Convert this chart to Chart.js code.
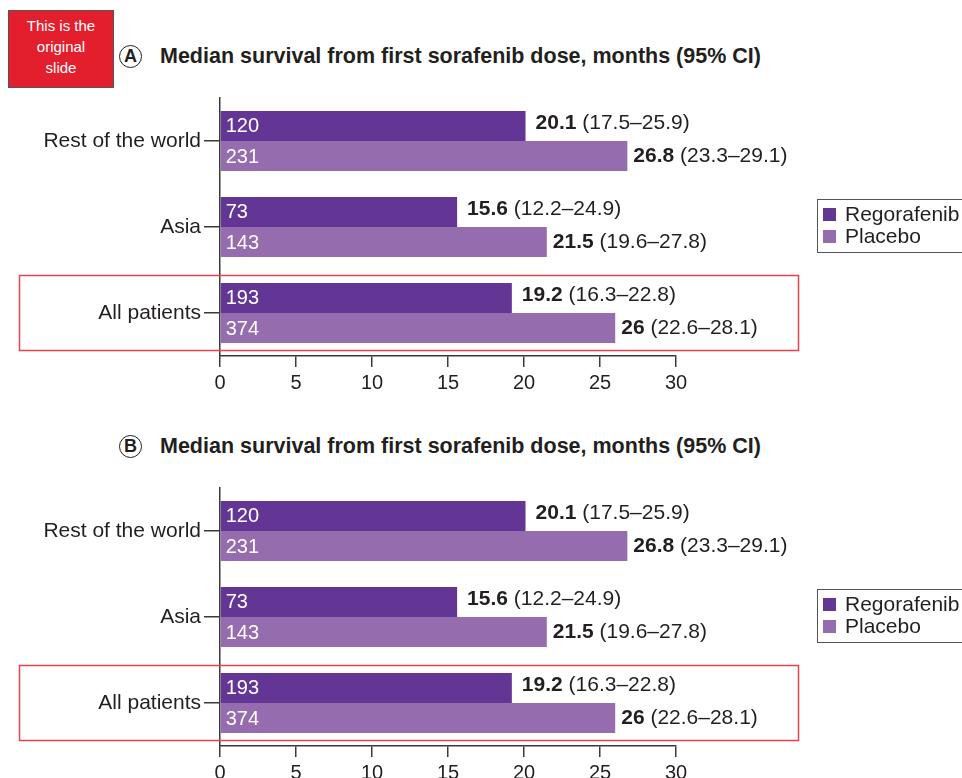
<!DOCTYPE html>
<html>
<head>
<meta charset="utf-8">
<script src="https://cdn.jsdelivr.net/npm/chart.js@4/dist/chart.umd.min.js"></script>
<style>
  html, body { margin: 0; padding: 0; background: #fff; }
  body { width: 962px; height: 778px; position: relative; overflow: hidden;
         font-family: "Liberation Sans", Arial, Helvetica, sans-serif; color: #231f20; }
  .note { position: absolute; left: 8px; top: 10px; width: 104px; height: 72px;
          background: #e31f2e; border: 1px solid #555; color: #fff; font-size: 15px;
          line-height: 21px; text-align: center; padding-top: 4px; }
  .title { position: absolute; left: 119px; height: 26px; font-weight: bold; font-size: 21.5px;
           line-height: 26px; white-space: nowrap; }
  .title .badge { display: inline-block; width: 21px; height: 21px; border: 1.5px solid #231f20;
                  border-radius: 50%; text-align: center; line-height: 21px; font-size: 18px;
                  margin-right: 18px; vertical-align: 1px; }
  .legend { position: absolute; left: 817px; width: 170px; height: 52px; border: 1px solid #555;
            font-size: 21px; }
  .legend div { position: absolute; left: 27px; line-height: 22px; white-space: nowrap; }
  .legend span { position: absolute; left: -22px; top: 5px; width: 13px; height: 13px; }
  canvas { position: absolute; left: 0; }
</style>
</head>
<body>
<div class="note">This is the<br>original<br>slide</div>

<div class="title" style="top:43px"><span class="badge">A</span>Median survival from first sorafenib dose, months (95% CI)</div>
<canvas id="panelA" width="962" height="310" style="top:90px"></canvas>
<div class="legend" id="legendA" style="top:199px"></div>

<div class="title" style="top:433px"><span class="badge">B</span>Median survival from first sorafenib dose, months (95% CI)</div>
<canvas id="panelB" width="962" height="310" style="top:480px"></canvas>
<div class="legend" id="legendB" style="top:589px"></div>

<script>
const categories = ['Rest of the world', 'Asia', 'All patients'];
const seriesNames = ['Regorafenib', 'Placebo'];
const regorafenibMedian = [20.1, 15.6, 19.2];
const placeboMedian = [26.8, 21.5, 26];
const regorafenibCI = ['17.5–25.9', '12.2–24.9', '16.3–22.8'];
const placeboCI = ['23.3–29.1', '19.6–27.8', '22.6–28.1'];
const regorafenibN = [120, 73, 193];
const placeboN = [231, 143, 374];
const xTicks = [0, 5, 10, 15, 20, 25, 30];

const colors = ['#633695', '#956cae'];
const ink = '#231f20';
const FONT = '"Liberation Sans", Arial, Helvetica, sans-serif';

// counts inside the bars, median + CI after them, red frame round "All patients"
const barLabels = {
  id: 'barLabels',
  afterDatasetsDraw(chart) {
    const ctx = chart.ctx;
    const counts = [regorafenibN, placeboN];
    const cis = [regorafenibCI, placeboCI];
    ctx.save();
    ctx.textBaseline = 'middle';
    chart.data.datasets.forEach((ds, i) => {
      chart.getDatasetMeta(i).data.forEach((bar, j) => {
        ctx.font = '20px ' + FONT;
        ctx.fillStyle = '#fff';
        ctx.fillText(String(counts[i][j]), bar.base + 5, bar.y + 1);

        const med = String(ds.data[j]);
        let x = bar.x + (i === 0 ? 10 : 6);
        const y = bar.y - (i === 0 ? 3 : 0);
        ctx.fillStyle = ink;
        ctx.font = 'bold 21px ' + FONT;
        ctx.fillText(med, x, y);
        x += ctx.measureText(med).width;
        ctx.font = '21px ' + FONT;
        ctx.fillText(' (' + cis[i][j] + ')', x, y);
      });
    });
    ctx.restore();
  },
  afterDraw(chart) {
    const ctx = chart.ctx;
    const yc = chart.scales.y.getPixelForValue(2);
    ctx.save();
    ctx.strokeStyle = '#e8414f';
    ctx.lineWidth = 1.5;
    ctx.strokeRect(19.5, yc - 37.5, 779, 75);
    ctx.restore();
  }
};

function buildPanel(canvasId, legendId) {
  const legend = document.getElementById(legendId);
  seriesNames.forEach((name, i) => {
    const row = document.createElement('div');
    row.style.top = (i === 0 ? 3 : 25) + 'px';
    row.innerHTML = '<span style="background:' + colors[i] + '"></span>' + name;
    legend.appendChild(row);
  });

  const ctx = document.getElementById(canvasId).getContext('2d');
  return new Chart(ctx, {
    type: 'bar',
    data: {
      labels: categories,
      datasets: [
        { label: seriesNames[0], data: regorafenibMedian, backgroundColor: colors[0] },
        { label: seriesNames[1], data: placeboMedian, backgroundColor: colors[1] }
      ]
    },
    options: {
      indexAxis: 'y',
      responsive: false,
      animation: false,
      devicePixelRatio: 1,
      categoryPercentage: 0.70,
      barPercentage: 1,
      layout: { padding: { top: 8, right: 286, left: 0, bottom: 0 } },
      plugins: { legend: { display: false }, tooltip: { enabled: false } },
      scales: {
        x: {
          min: 0, max: 30,
          afterBuildTicks: (scale) => { scale.ticks = xTicks.map(v => ({ value: v })); },
          afterFit: (scale) => { scale.height = 44; },
          border: { display: true, color: '#3a3a3a', width: 1.5 },
          grid: { drawOnChartArea: false, drawTicks: true, tickLength: 11, color: '#3a3a3a', lineWidth: 1.5 },
          ticks: { color: ink, font: { size: 20, family: FONT }, padding: 4, maxRotation: 0 }
        },
        y: {
          afterFit: (scale) => { scale.width = 220; scale.paddingTop = 0; scale.paddingBottom = 0; },
          border: { display: true, color: '#3a3a3a', width: 1.5 },
          grid: { offset: false, drawOnChartArea: false, drawTicks: true, tickLength: 16, color: '#3a3a3a', lineWidth: 1.5 },
          ticks: { color: ink, font: { size: 21, family: FONT }, padding: 3 }
        }
      }
    },
    plugins: [barLabels]
  });
}

buildPanel('panelA', 'legendA');
buildPanel('panelB', 'legendB');
</script>
</body>
</html>
